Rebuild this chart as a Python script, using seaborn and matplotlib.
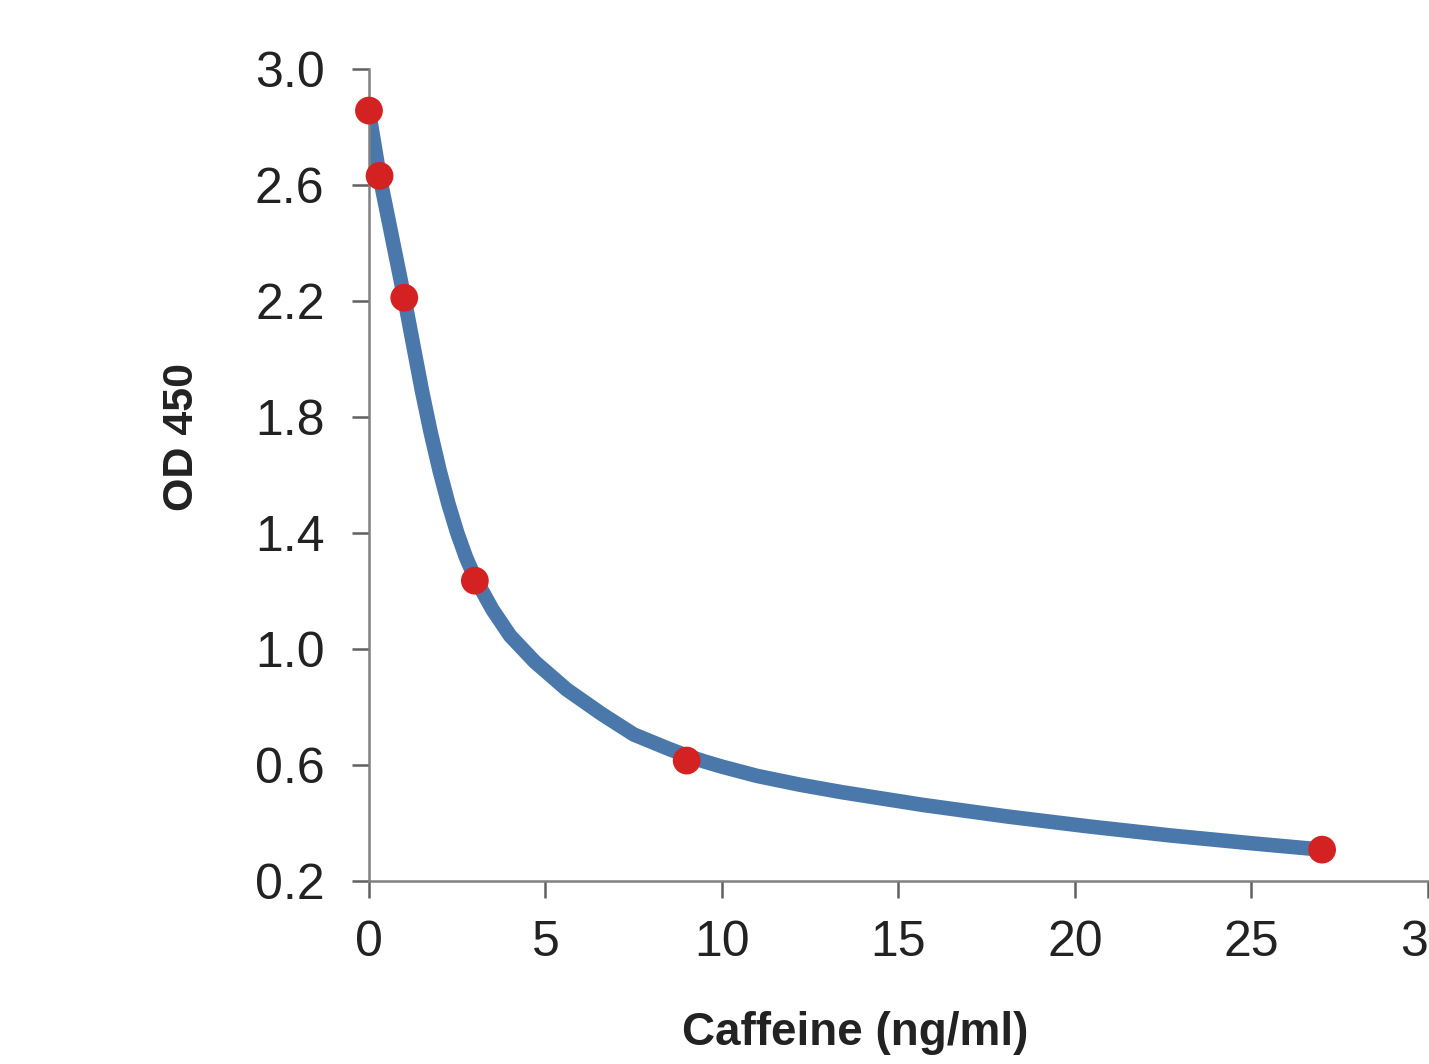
import matplotlib
matplotlib.use("Agg")
import matplotlib.pyplot as plt
import seaborn as sns
import pandas as pd

# Measured standards (caffeine ng/ml vs OD 450)
conc = [0.0, 0.3, 1.0, 3.0, 9.0, 27.0]
od450 = [2.855, 2.63, 2.21, 1.235, 0.615, 0.308]

# Fitted curve
fit_x = [0.0, 0.15, 0.3, 0.6, 1.0, 1.25, 1.5, 1.75, 2.0, 2.25, 2.5, 2.75, 3.0,
         3.5, 4.0, 4.7, 5.6, 6.6, 7.5, 8.5, 9.0, 9.5, 10.0, 11.0, 12.2, 13.4, 15.7, 18.1,
         20.4, 22.7, 25.0, 27.0]
fit_y = [2.85, 2.74, 2.63, 2.45, 2.21, 2.05, 1.89, 1.745, 1.615, 1.50, 1.40, 1.315, 1.245,
         1.135, 1.045, 0.955, 0.86, 0.775, 0.705, 0.655, 0.632, 0.612, 0.594, 0.562, 0.532,
         0.506, 0.462, 0.422, 0.388, 0.357, 0.33, 0.308]

x_ticks = [0, 5, 10, 15, 20, 25, 30]
y_ticks = [0.2, 0.6, 1.0, 1.4, 1.8, 2.2, 2.6, 3.0]

pts = pd.DataFrame({"conc": conc, "od": od450})
fit = pd.DataFrame({"conc": fit_x, "od": fit_y})

sns.set_style("white")
plt.rcParams["font.family"] = ["Liberation Sans", "DejaVu Sans"]

fig = plt.figure(figsize=(14.29, 10.64), dpi=100)
ax = fig.add_axes([0.2582, 0.172, 0.7411, 0.7636])

sns.lineplot(data=fit, x="conc", y="od", ax=ax, sort=False, color="#4a78aa",
             linewidth=10.5, solid_capstyle="round", solid_joinstyle="round", zorder=2)
sns.scatterplot(data=pts, x="conc", y="od", ax=ax, color="#d42222", s=400,
                edgecolor="none", zorder=3, clip_on=False)

ax.set_xlim(0, 30)
ax.set_ylim(0.2, 3.0)
ax.set_xticks(x_ticks)
ax.set_yticks(y_ticks)
ax.set_xticklabels([str(t) for t in x_ticks])
ax.set_yticklabels([f"{t:.1f}" for t in y_ticks])

for s in ["top", "right"]:
    ax.spines[s].set_visible(False)
for s in ["left", "bottom"]:
    ax.spines[s].set_color("#808080")
    ax.spines[s].set_linewidth(1.8)

ax.tick_params(axis="both", which="major", direction="out", length=12, width=1.8,
               color="#606060", labelcolor="#222222", labelsize=36,
               bottom=True, left=True)
ax.tick_params(axis="y", pad=20)
ax.tick_params(axis="x", pad=16)

ax.set_xlabel("Caffeine (ng/ml)", fontsize=33, fontweight="bold", color="#222222")
ax.set_ylabel("OD 450", fontsize=31, fontweight="bold", color="#222222")
ax.xaxis.set_label_coords(0.459, -0.160)
ax.yaxis.set_label_coords(-0.158, 0.546)

fig.savefig("out.png", dpi=100)
